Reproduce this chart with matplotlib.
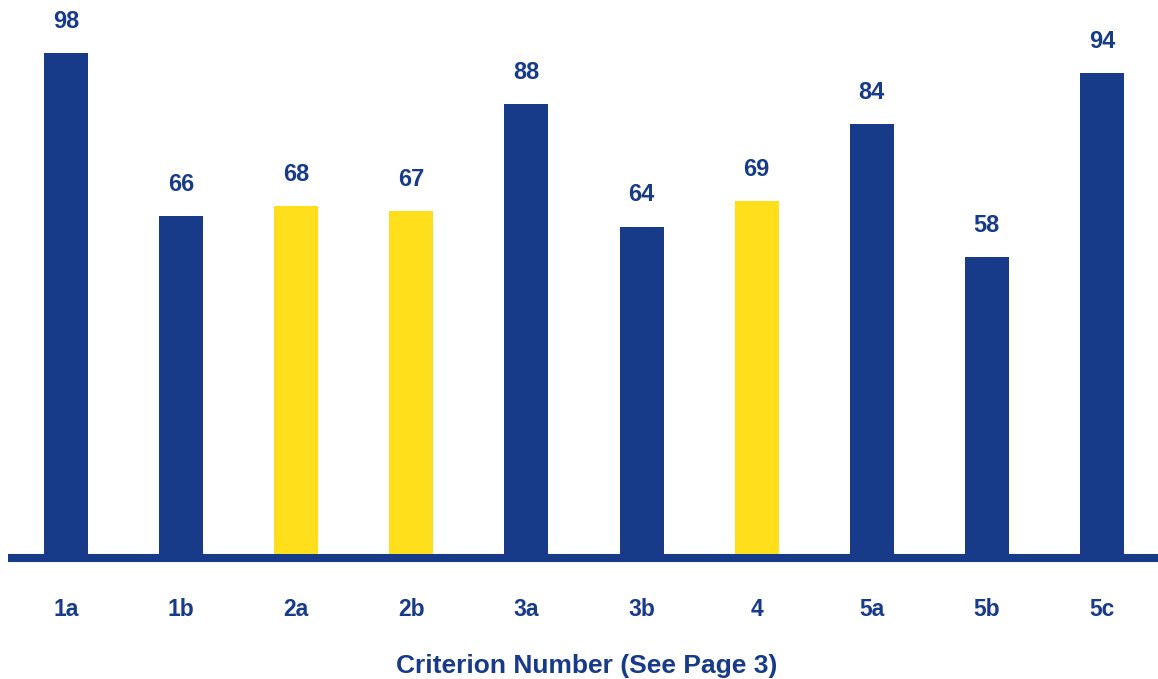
import numpy as np
import matplotlib.pyplot as plt

plt.rcParams['font.family'] = ['Liberation Sans', 'DejaVu Sans']

# data
criteria = ['1a', '1b', '2a', '2b', '3a', '3b', '4', '5a', '5b', '5c']
scores = [98, 66, 68, 67, 88, 64, 69, 84, 58, 94]
highlight = [False, False, True, True, False, False, True, False, False, False]

NAVY = '#173A89'
YELLOW = '#FFDF1B'

W, H = 1158, 679
fig = plt.figure(figsize=(W / 100, H / 100), dpi=100)
# axes: left edge at 8px, bottom (spine centre) at 558px from top
ax = fig.add_axes([8 / W, 1 - 558 / H, 1 - 8 / W, 558 / H])

x = np.arange(len(criteria))
colors = [YELLOW if h else NAVY for h in highlight]
bars = ax.bar(x, scores, width=0.382, color=colors, zorder=2)

for rect, val in zip(bars, scores):
    ax.annotate(str(val), (rect.get_x() + rect.get_width() / 2, rect.get_height()),
                xytext=(0, 14.5), textcoords='offset points',
                ha='center', va='bottom', fontsize=17, fontweight='heavy', color=NAVY)

ax.set_xlim(-0.504, 9.487)
ax.set_ylim(-0.78, 108.3)
ax.set_xticks(x)
ax.set_xticklabels(criteria, fontsize=16.5, fontweight='heavy', color=NAVY)
ax.tick_params(axis='x', length=0, pad=29)
ax.set_yticks([])

for s in ['top', 'right', 'left']:
    ax.spines[s].set_visible(False)
ax.spines['bottom'].set_color(NAVY)
ax.spines['bottom'].set_linewidth(5.8)
ax.spines['bottom'].set_capstyle('butt')
ax.spines['bottom'].set_zorder(3)

fig.text(587 / W, 1 - 666 / H, 'Criterion Number (See Page 3)',
         ha='center', va='center', fontsize=19, fontweight='heavy', color=NAVY)

plt.savefig('out.png', dpi=100)
